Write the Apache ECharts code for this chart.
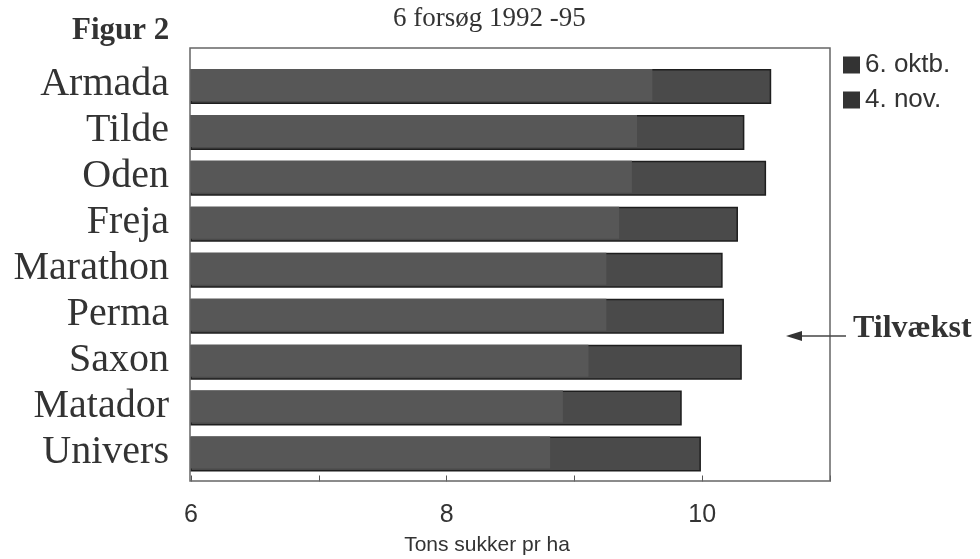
<!DOCTYPE html>
<html>
<head>
<meta charset="utf-8">
<script src="https://cdn.jsdelivr.net/npm/echarts@6/dist/echarts.min.js"></script>
<style>
html,body{margin:0;padding:0;background:#fff;}
#chart{width:980px;height:559px;}
</style>
</head>
<body>
<div id="chart"></div>
<script>
const categories = ['Armada','Tilde','Oden','Freja','Marathon','Perma','Saxon','Matador','Univers'];
const okt6 = [9.61, 9.49, 9.45, 9.35, 9.25, 9.25, 9.11, 8.91, 8.81];
const nov4 = [10.54, 10.33, 10.50, 10.28, 10.16, 10.17, 10.31, 9.84, 9.99];
const xTicks = [6, 8, 10];
const seriesNames = ['6. oktb.', '4. nov.'];

const chart = echarts.init(document.getElementById('chart'));
const serif = '"Liberation Serif", "DejaVu Serif", serif';
const sans = '"Liberation Sans", Arial, sans-serif';

chart.setOption({
  animation: false,
  backgroundColor: '#fff',
  title: [
    {text: 'Figur 2', left: 67, top: 10, textStyle: {fontFamily: serif, fontWeight: 'bold', fontSize: 31, color: '#333'}},
    {text: '6 forsøg 1992 -95', left: 388, top: 0, textStyle: {fontFamily: serif, fontWeight: 'normal', fontSize: 27, color: '#333'}}
  ],
  legend: {
    orient: 'vertical', left: 843, top: 52, itemWidth: 17, itemHeight: 17, itemGap: 9, padding: 0,
    textStyle: {fontFamily: sans, fontSize: 26, color: '#333'},
    data: [
      {name: seriesNames[0], icon: 'rect', itemStyle: {color: '#333', borderWidth: 0}},
      {name: seriesNames[1], icon: 'rect', itemStyle: {color: '#333', borderWidth: 0}}
    ]
  },
  grid: {left: 191, right: 150, top: 62, bottom: 83.5},
  xAxis: {
    type: 'value', min: 6, max: 11, interval: 1, offset: 6,
    axisLine: {show: false},
    axisTick: {show: true, inside: true, length: 6, lineStyle: {color: '#555'}},
    splitLine: {show: false},
    axisLabel: {
      margin: 21, fontFamily: sans, fontSize: 25, color: '#333',
      formatter: v => xTicks.indexOf(v) >= 0 ? String(v) : ''
    }
  },
  yAxis: {
    type: 'category', data: categories, inverse: true,
    axisLine: {show: false}, axisTick: {show: false},
    axisLabel: {interval: 0, margin: 22, fontFamily: serif, fontSize: 40, color: '#333'}
  },
  series: [
    {
      name: seriesNames[1], type: 'bar', data: nov4, barWidth: 35, z: 2,
      itemStyle: {color: '#4a4a4a', borderColor: '#1e1e1e', borderWidth: 1.5}
    },
    {
      name: seriesNames[0], type: 'bar', data: okt6, barWidth: 32, barGap: '-100%', z: 3,
      itemStyle: {color: '#575757', borderWidth: 0}
    }
  ],
  graphic: [
    {type: 'rect', shape: {x: 190, y: 48, width: 640, height: 433}, style: {fill: 'none', stroke: '#666', lineWidth: 1.5}, z: 10},
    {type: 'line', shape: {x1: 795, y1: 336, x2: 846, y2: 336}, style: {stroke: '#444', lineWidth: 1.5}, z: 10},
    {type: 'polygon', shape: {points: [[786, 336], [802, 331], [802, 341]]}, style: {fill: '#333'}, z: 10},
    {type: 'text', left: 853, top: 313, style: {text: 'Tilvækst', font: 'bold 32px "Liberation Serif", serif', fill: '#333'}, z: 10},
    {type: 'text', x: 487, y: 545, style: {text: 'Tons sukker pr ha', font: '21px "Liberation Sans", Arial, sans-serif', fill: '#333', align: 'center', verticalAlign: 'middle'}, z: 10}
  ]
});
</script>
</body>
</html>
